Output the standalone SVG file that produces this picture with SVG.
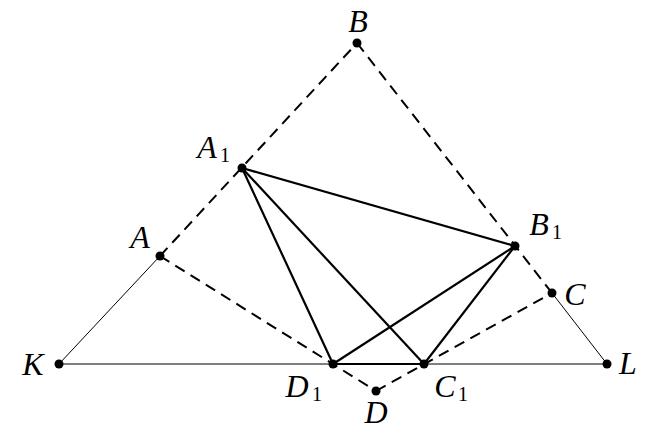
<svg xmlns="http://www.w3.org/2000/svg" width="652" height="438" viewBox="0 0 652 438">
<style>
.thin{stroke:#000;stroke-width:1;fill:none}
.thick{stroke:#000;stroke-width:2.2;fill:none}
.dash{stroke:#000;stroke-width:2;fill:none;stroke-dasharray:11 7}
.dot{fill:#000}
.lbl{font-style:italic;font-size:32px;text-anchor:middle}
.sub{font-size:20px}
</style>
<rect width="652" height="438" fill="#fff"/>
<g id="connectors">
<line class="thin" x1="59" y1="364" x2="607" y2="364"/>
<line class="thin" x1="59" y1="364" x2="160" y2="256"/>
<line class="thin" x1="552" y1="293" x2="607" y2="364"/>
<line class="dash" x1="160" y1="256" x2="357" y2="43"/>
<line class="dash" x1="357" y1="43" x2="552" y2="293"/>
<line class="dash" x1="160" y1="256" x2="376" y2="391"/>
<line class="dash" x1="376" y1="391" x2="552" y2="293"/>
<line class="thick" x1="242" y1="168" x2="515" y2="246"/>
<line class="thick" x1="242" y1="168" x2="333" y2="364"/>
<line class="thick" x1="242" y1="168" x2="424" y2="364"/>
<line class="thick" x1="515" y1="246" x2="333" y2="364"/>
<line class="thick" x1="515" y1="246" x2="424" y2="364"/>
<line class="thick" x1="333" y1="364" x2="424" y2="364"/>
</g>
<g font-family="Liberation Serif, serif" fill="#000">
<g id="B"><circle class="dot" cx="357" cy="43" r="4.5"/><text class="lbl" x="358" y="32">B</text></g>
<g id="A1"><circle class="dot" cx="242" cy="168" r="4.5"/><text class="lbl" x="207" y="158">A</text><text class="sub" x="220" y="162">1</text></g>
<g id="A"><circle class="dot" cx="160" cy="256" r="4.5"/><text class="lbl" x="140" y="248">A</text></g>
<g id="K"><circle class="dot" cx="59" cy="364" r="4.5"/><text class="lbl" x="33" y="375">K</text></g>
<g id="L"><circle class="dot" cx="607" cy="364" r="4.5"/><text class="lbl" x="628" y="374">L</text></g>
<g id="C"><circle class="dot" cx="552" cy="293" r="4.5"/><text class="lbl" x="575" y="305">C</text></g>
<g id="B1"><circle class="dot" cx="515" cy="246" r="4.5"/><text class="lbl" x="539" y="235">B</text><text class="sub" x="552" y="239">1</text></g>
<g id="D1"><circle class="dot" cx="333" cy="364" r="4.5"/><text class="lbl" x="297" y="397">D</text><text class="sub" x="312" y="401">1</text></g>
<g id="C1"><circle class="dot" cx="424" cy="364" r="4.5"/><text class="lbl" x="445" y="397">C</text><text class="sub" x="458" y="401">1</text></g>
<g id="D"><circle class="dot" cx="376" cy="391" r="4.5"/><text class="lbl" x="376" y="423">D</text></g>
</g>
</svg>
